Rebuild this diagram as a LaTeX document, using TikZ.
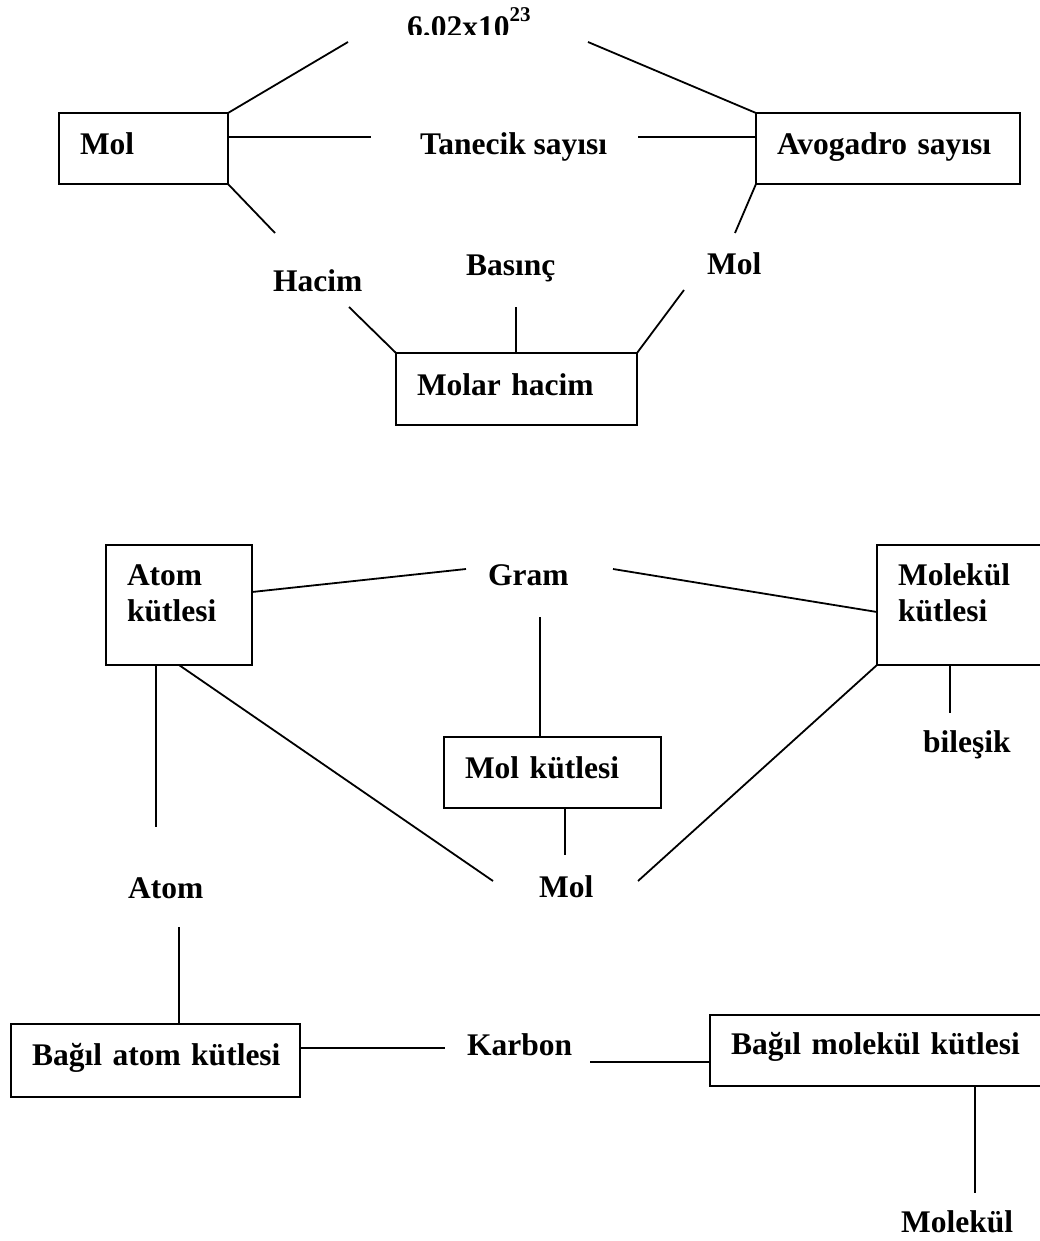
\documentclass[tikz,border=0pt]{standalone}
\usepackage{fontspec}
\setmainfont{Liberation Serif}
\begin{document}
\begin{tikzpicture}[x=1pt,y=-1pt,
        every node/.style={font={\bfseries\fontsize{31.5}{36}\selectfont}},
        kutu/.style={rectangle,draw,line width=1.8pt,anchor=north west,align=left,
            inner xsep=21pt,inner ysep=0pt,outer sep=0pt},
        etiket/.style={anchor=base west,inner sep=0pt},
        cizgi/.style={line width=1.8pt},
        ince/.style={line width=1.2pt}]
        \useasboundingbox (0,0) rectangle (1039,1241);

        % upper map
        \draw (59,113) node (molk) [kutu,text width=127pt,text height=42pt,text depth=29pt] {Mol};
        \draw (756,113) node (avo) [kutu,text width=222pt,text height=42pt,text depth=29pt] {\mbox{Avogadro sayısı}};
        \draw (396,353) node (molarh) [kutu,text width=199pt,text height=42pt,text depth=30pt] {Molar hacim};

        \begin{scope}
            \clip (380,0) rectangle (560,35);
            \draw (407,38) node (sayi) [etiket] {6.02x10\raisebox{16pt}{\fontsize{21}{21}\selectfont 23}};
        \end{scope}
        \draw (420,155) node (tanecik) [etiket] {Tanecik sayısı};
        \draw (273,291) node (hacim) [etiket] {Hacim};
        \draw (466,275) node (basinc) [etiket] {Basınç};
        \draw (707,274) node (mol1) [etiket] {Mol};

        \coordinate (s1) at (348,42);
        \coordinate (s2) at (588,42);
        \coordinate (t1) at (371,137);
        \coordinate (t2) at (638,137);
        \coordinate (h1) at (275,233);
        \coordinate (h2) at (349,307);
        \coordinate (b1) at (516,307);
        \coordinate (m1) at (735,233);
        \coordinate (m2) at (684,290);

        \draw [cizgi] (molk.north east) -- (s1);
        \draw [cizgi] (s2) -- (avo.north west);
        \draw [cizgi] (molk.east |- t1) -- (t1);
        \draw [cizgi] (t2) -- (avo.west |- t2);
        \draw [cizgi] (molk.south east) -- (h1);
        \draw [cizgi] (h2) -- (molarh.north west);
        \draw [ince] (b1) -- (molarh.north -| b1);
        \draw [cizgi] (avo.south west) -- (m1);
        \draw [cizgi] (m2) -- (molarh.north east);

        % lower map
        \draw (106,545) node (atomk) [kutu,text width=104pt,text height=40pt,text depth=80pt] {Atom\\kütlesi};
        \draw (877,545) node (molekulk) [kutu,text width=158pt,text height=40pt,text depth=80pt] {Molekül\\kütlesi};
        \draw (444,737) node (molkut) [kutu,text width=175pt,text height=41pt,text depth=30pt] {Mol kütlesi};
        \draw (11,1024) node (bagilatom) [kutu,text width=247pt,text height=41pt,text depth=32pt] {\mbox{Bağıl atom kütlesi}};
        \draw (710,1015) node (bagilmol) [kutu,text width=300pt,text height=39pt,text depth=32pt] {\mbox{Bağıl molekül kütlesi}};

        \draw (488,585) node (gram) [etiket] {Gram};
        \draw (923,752) node (bilesik) [etiket] {bileşik};
        \draw (128,898) node (atom) [etiket] {Atom};
        \draw (539,897) node (mol2) [etiket] {Mol};
        \draw (467,1055) node (karbon) [etiket] {Karbon};
        \draw (901,1232) node (molekul) [etiket] {Molekül};

        \coordinate (g1) at (466,569);
        \coordinate (g2) at (613,569);
        \coordinate (g3) at (540,617);
        \coordinate (a1) at (156,827);
        \coordinate (a2) at (179,927);
        \coordinate (d1) at (493,881);
        \coordinate (d2) at (638,881);
        \coordinate (k1) at (445,1048);
        \coordinate (k2) at (590,1062);
        \coordinate (v1) at (950,713);
        \coordinate (v2) at (565,855);
        \coordinate (v3) at (975,1193);

        \draw [cizgi] ([yshift=13pt]atomk.east) -- (g1);
        \draw [cizgi] (g2) -- ([yshift=-7pt]molekulk.west);
        \draw [ince] (g3) -- (molkut.north -| g3);
        \draw [ince] (atomk.south -| a1) -- (a1);
        \draw [cizgi] (atomk.south) -- (d1);
        \draw [cizgi] (molekulk.south west) -- (d2);
        \draw [ince] (molekulk.south -| v1) -- (v1);
        \draw [ince] (molkut.south -| v2) -- (v2);
        \draw [ince] (a2) -- (bagilatom.north -| a2);
        \draw [cizgi] (bagilatom.east |- k1) -- (k1);
        \draw [cizgi] (k2) -- (bagilmol.west |- k2);
        \draw [ince] (bagilmol.south -| v3) -- (v3);

    \end{tikzpicture}
\end{document}
